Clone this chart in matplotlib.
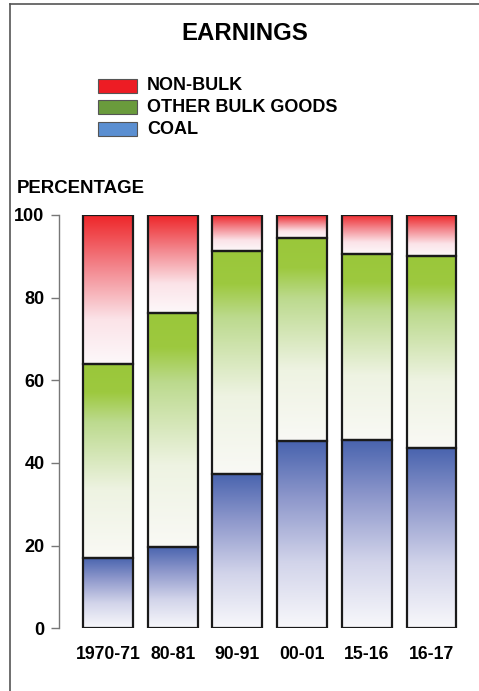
import numpy as np
import matplotlib
matplotlib.use('Agg')
import matplotlib.pyplot as plt
from matplotlib.colors import LinearSegmentedColormap
from matplotlib.patches import Rectangle
from matplotlib.lines import Line2D

plt.rcParams['font.family'] = ['Liberation Sans', 'DejaVu Sans']

years = ['1970-71', '80-81', '90-91', '00-01', '15-16', '16-17']
coal = [17.0, 19.7, 37.3, 45.2, 45.6, 43.6]
other_bulk = [47.0, 56.7, 54.0, 49.3, 44.9, 46.6]
non_bulk = [36.0, 23.6, 8.7, 5.5, 9.5, 9.8]
series_names = ['NON-BULK', 'OTHER BULK GOODS', 'COAL']
legend_colors = ['#ED1C24', '#6A9B3C', '#5B8FD1']

# gradient maps, white at bottom -> colour at top
cmaps = {
    'COAL': LinearSegmentedColormap.from_list(
        'coal', [(0, '#F8F8FB'), (0.35, '#D2D4EA'), (0.7, '#8D97CB'), (1, '#4863AE')]),
    'OTHER BULK GOODS': LinearSegmentedColormap.from_list(
        'bulk', [(0, '#F9F9F5'), (0.35, '#EEF3E2'), (0.7, '#BCDA8E'), (0.85, '#9DC93F'), (1, '#9AC73A')]),
    'NON-BULK': LinearSegmentedColormap.from_list(
        'nonbulk', [(0, '#FDF8FA'), (0.3, '#FBE3E8'), (0.65, '#F3868D'), (1, '#EE2629')]),
}

W, H = 479, 691
fig = plt.figure(figsize=(W / 100, H / 100), dpi=100)

ax = fig.add_axes([59 / W, (H - 628.3) / H, (470 - 59) / W, (628.3 - 215) / H])

grad = np.linspace(0, 1, 256).reshape(-1, 1)
bw = 0.77
for i in range(len(years)):
    bottom = 0
    for name, vals in (('COAL', coal), ('OTHER BULK GOODS', other_bulk), ('NON-BULK', non_bulk)):
        top = bottom + vals[i]
        ax.imshow(grad, cmap=cmaps[name], origin='lower', aspect='auto',
                  extent=[i - bw / 2, i + bw / 2, bottom, top], interpolation='bilinear')
        ax.add_patch(Rectangle((i - bw / 2, bottom), bw, vals[i], fill=False,
                               edgecolor='#1a1a1a', linewidth=1.6, zorder=3))
        bottom = top

ax.set_xlim(-0.757, 5.595)
ax.set_ylim(0, 100)
ax.set_xticks(range(len(years)))
ax.set_xticklabels(years, fontsize=12.7, fontweight='bold')
ax.tick_params(axis='x', length=0, pad=13)
ax.set_yticks([0, 20, 40, 60, 80, 100])
ax.set_yticklabels(['0', '20', '40', '60', '80', '100'], fontsize=13, fontweight='bold')
ax.tick_params(axis='y', length=6, width=1, color='#777777', pad=4.5)
for s in ['top', 'right', 'bottom']:
    ax.spines[s].set_visible(False)
ax.spines['left'].set_color('#777777')
ax.spines['left'].set_linewidth(1)

fig.text(245 / W, 1 - 33 / H, 'EARNINGS', ha='center', va='center',
         fontsize=17.3, fontweight='bold')
fig.text(17 / W, 1 - 189 / H, 'PERCENTAGE', ha='left', va='center',
         fontsize=13.4, fontweight='bold')

# legend
leg_y = [86, 107, 129]
for name, col, y in zip(series_names, legend_colors, leg_y):
    fig.patches.append(Rectangle((98 / W, 1 - (y + 7) / H), 39 / W, 14 / H,
                                 facecolor=col, edgecolor='#555555', linewidth=0.8,
                                 transform=fig.transFigure, figure=fig))
    fig.text(147 / W, 1 - y / H, name, ha='left', va='center',
             fontsize=13, fontweight='bold')

# frame lines
fig.add_artist(Line2D([9.5 / W, 9.5 / W], [0, 1 - 4 / H], color='#555555',
                      linewidth=1.2, transform=fig.transFigure))
fig.add_artist(Line2D([9.5 / W, 1], [1 - 4 / H, 1 - 4 / H], color='#555555',
                      linewidth=1.2, transform=fig.transFigure))

fig.savefig('out.png', dpi=100)
